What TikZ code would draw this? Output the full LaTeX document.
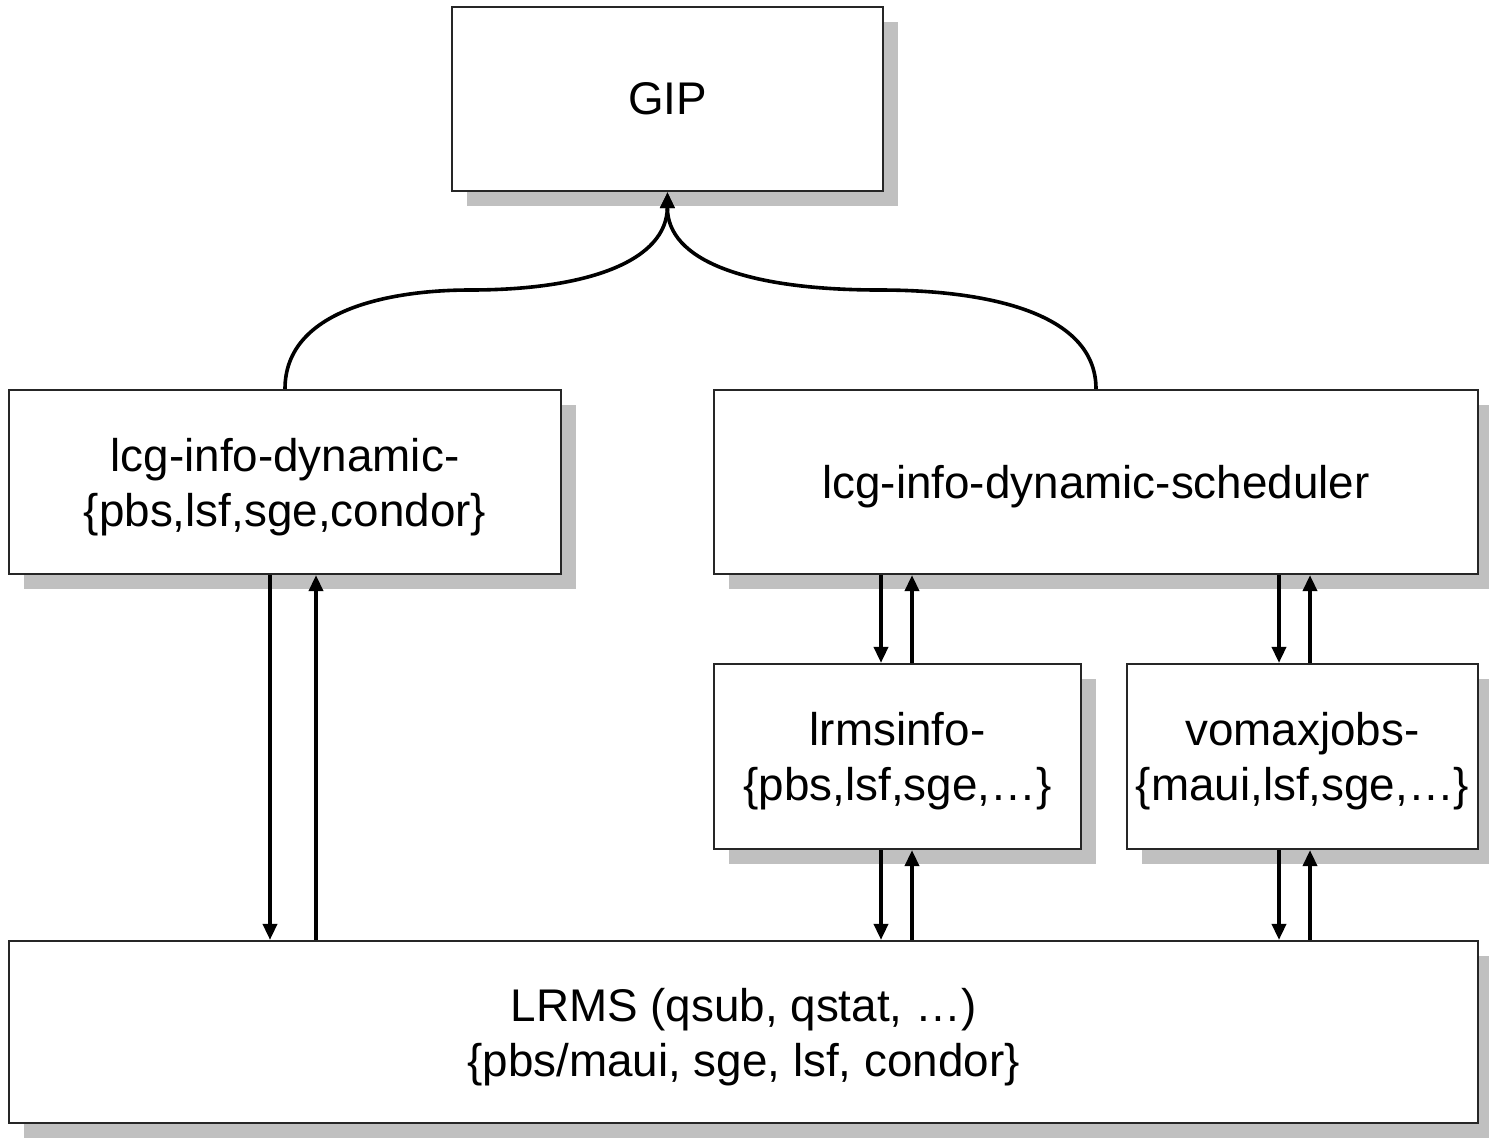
\documentclass[tikz,border=0pt]{standalone}
\usepackage{fontspec}
\setmainfont{Liberation Sans}
\usetikzlibrary{shadows,arrows.meta}
\definecolor{shade}{HTML}{C0C0C0}
\begin{document}
\begin{tikzpicture}[x=0.5pt,y=-0.5pt,
  box/.style={draw=black!85, line width=1.1pt, fill=white, rectangle, inner sep=0pt,
    align=center, font=\fontsize{22.9}{27.5}\selectfont, text depth=0pt,
    drop shadow={shadow xshift=7.5pt, shadow yshift=-7.5pt, fill=shade, opacity=1}},
  arr/.style={line width=1.8pt, -{Triangle[length=8pt,width=7pt]}},
  curve/.style={line width=1.8pt, -{Triangle[length=8pt,width=7pt]}}]
\useasboundingbox (0,0) rectangle (1489,1137);
\node[box, minimum width=215.5pt, minimum height=92pt] (gip) at (667.5,99) {GIP};
\node[box, minimum width=276pt, minimum height=92pt] (left) at (285,482) {lcg-info-dynamic-\\\{pbs,lsf,sge,condor\}};
\node[box, minimum width=382pt, minimum height=92pt] (sched) at (1096,482) {lcg-info-dynamic-scheduler};
\node[box, minimum width=183.5pt, minimum height=92.5pt] (lrmsinfo) at (897.5,756.5) {lrmsinfo-\\\{pbs,lsf,sge,\dots\}};
\node[box, minimum width=175.5pt, minimum height=92.5pt] (vomax) at (1302.5,756.5) {vomaxjobs-\\\{maui,lsf,sge,\dots\}};
\node[box, minimum width=734.5pt, minimum height=91pt] (lrms) at (743.5,1032) {LRMS (qsub, qstat, \dots)\\\{pbs/maui, sge, lsf, condor\}};
% curves to GIP
\draw[curve] (left.north) .. controls (285,310) and (390,290) .. (470,290)
  .. controls (590,290) and (667,260) .. (gip.south);
\draw[curve] (sched.north) .. controls (1096,310) and (980,290) .. (880,290)
  .. controls (745,290) and (667,260) .. (gip.south);
% left box <-> LRMS
\draw[arr] (left.south -| 270,0) -- (lrms.north -| 270,0);
\draw[arr] (lrms.north -| 316,0) -- (left.south -| 316,0);
% scheduler <-> lrmsinfo
\draw[arr] (sched.south -| 881,0) -- (lrmsinfo.north -| 881,0);
\draw[arr] (lrmsinfo.north -| 912,0) -- (sched.south -| 912,0);
% scheduler <-> vomax
\draw[arr] (sched.south -| 1279,0) -- (vomax.north -| 1279,0);
\draw[arr] (vomax.north -| 1310,0) -- (sched.south -| 1310,0);
% lrmsinfo <-> LRMS
\draw[arr] (lrmsinfo.south -| 881,0) -- (lrms.north -| 881,0);
\draw[arr] (lrms.north -| 912,0) -- (lrmsinfo.south -| 912,0);
% vomax <-> LRMS
\draw[arr] (vomax.south -| 1279,0) -- (lrms.north -| 1279,0);
\draw[arr] (lrms.north -| 1310,0) -- (vomax.south -| 1310,0);
\end{tikzpicture}
\end{document}
